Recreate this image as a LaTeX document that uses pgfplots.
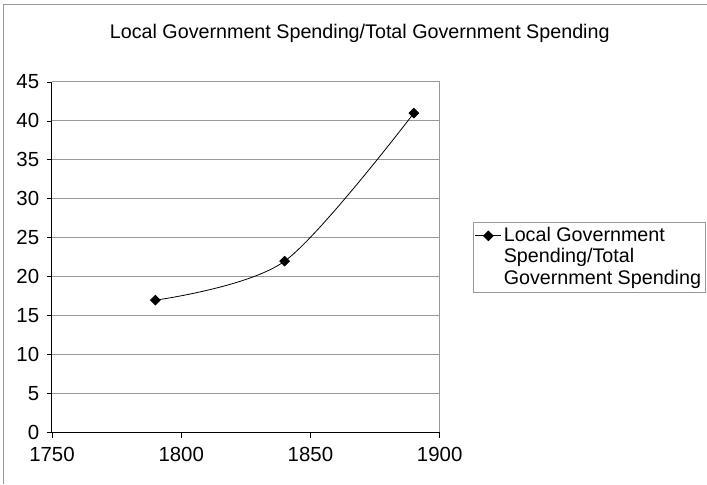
\documentclass[border=0pt]{standalone}
\usepackage{fontspec}
\setmainfont{Liberation Sans}
\usepackage{pgfplots}
\pgfplotsset{compat=1.18}
\begin{document}
\fontsize{20}{21.5}\selectfont
\begin{tikzpicture}
\path (0,0) rectangle (707bp,484bp);
\draw[gray!80, line width=1bp] (4bp,0) -- (4bp,479bp) -- (707bp,479bp);
\node[font=\fontsize{19.8}{22}\selectfont] at (360bp,451bp) {Local Government Spending/Total Government Spending};
\begin{axis}[
  at={(52bp,51bp)}, anchor=south west,
  scale only axis, width=388bp, height=351bp,
  xmin=1750, xmax=1900, ymin=0, ymax=45,
  xtick={1750,1800,1850,1900}, ytick={0,5,...,45},
  x tick label style={/pgf/number format/1000 sep={}},
  /pgf/number format/assume math mode=true,
  tick label style={font=\fontsize{20.5}{22}\selectfont},
  tick align=outside, tick pos=left, major tick length=5bp,
  tick style={black, line width=0.8bp},
  axis line style={draw=none},
  ymajorgrids, grid style={gray!80, line width=1bp},
  extra x ticks={1900}, extra x tick labels={}, extra x tick style={grid=major, major tick length=0pt},
  xticklabel style={yshift=-3bp},
  yticklabel style={xshift=-1bp},
  clip=false,
  legend cell align=left,
  legend style={at={(1.085,0.601)}, anchor=north west, draw=gray!80, line width=0.8bp,
    nodes={align=left}, font=\fontsize{19.8}{21.5}\selectfont,
    inner xsep=2bp, inner ysep=3bp},
  legend image code/.code={\path[draw=none] (0bp,-21.5bp) -- (0bp,21.5bp); \draw[#1, line width=0.8bp] (0bp,21.5bp) -- (26bp,21.5bp); \draw[#1, mark repeat=1] plot coordinates {(13bp,21.5bp)};},
]
\draw[black, line width=1bp] (axis cs:1750,45) -- (axis cs:1750,0) -- (axis cs:1900,0);
\addplot[black, line width=0.8bp, smooth, mark=square*, mark size=3.4bp, mark options={solid, rotate=45}] coordinates {(1790,17) (1840,22) (1890,41)};
\addlegendentry{Local Government\\Spending/Total\\Government Spending}
\end{axis}
\end{tikzpicture}
\end{document}
